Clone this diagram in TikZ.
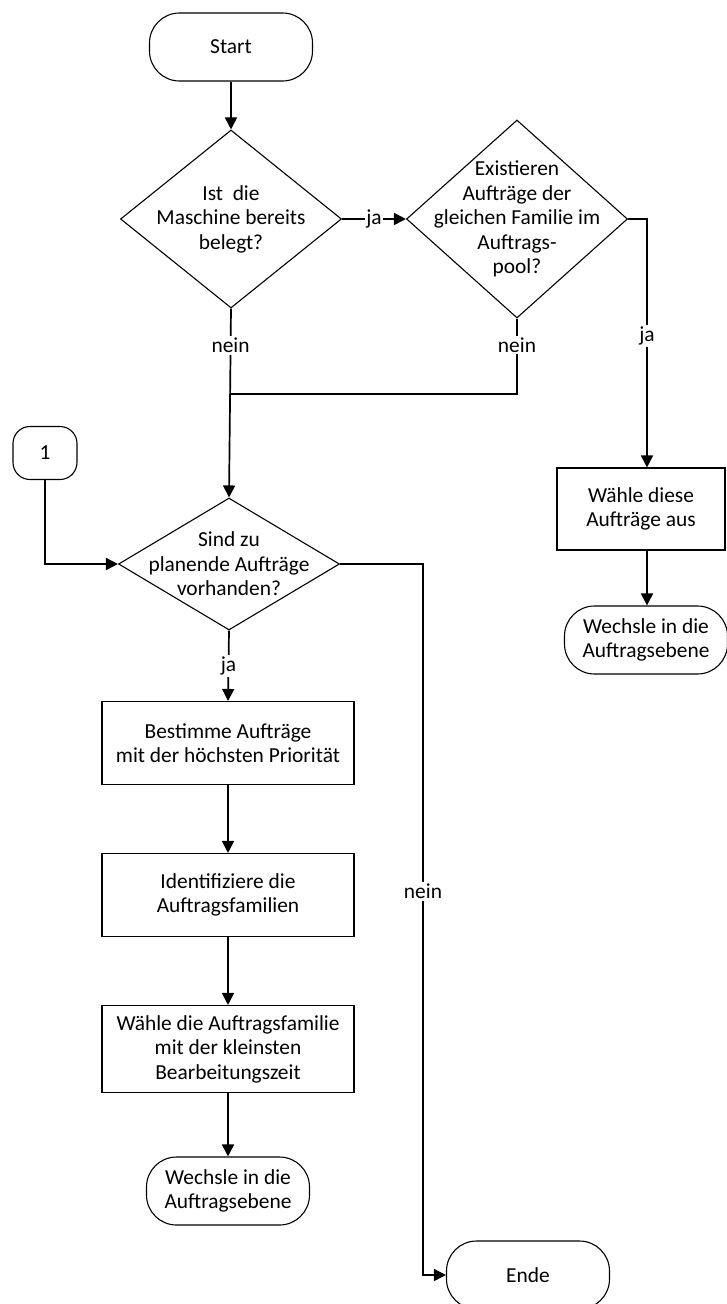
\documentclass[tikz,border=0pt]{standalone}
\usepackage{fontspec}
\setmainfont{Carlito}
\usetikzlibrary{shapes.geometric,arrows.meta}
\begin{document}
\begin{tikzpicture}[x=1pt,y=-1pt,
  every node/.style={font=\fontsize{21.4}{24.5}\selectfont},
  term/.style={draw, line width=1.1pt, rectangle, rounded corners=30pt,
    minimum width=163pt, minimum height=68pt, inner sep=0pt, align=center},
  conn/.style={draw, line width=1.1pt, rectangle, rounded corners=17pt,
    minimum width=64pt, minimum height=53pt, inner sep=0pt},
  proc/.style={draw, line width=1.1pt, rectangle,
    minimum width=252pt, minimum height=83pt, inner sep=0pt, align=center},
  dia/.style={draw, line width=1.1pt, diamond, inner sep=0pt, aspect=1},
  flow/.style={line width=1.7pt, -{Triangle[length=12pt,width=12pt]}},
  link/.style={line width=1.7pt},
  lbl/.style={fill=white, inner sep=2pt}
]
\useasboundingbox (0,0) rectangle (726,1304);

% nodes
\node[term] (start) at (231,47) {Start};
\node[dia, minimum width=221pt, minimum height=178pt,
  label={[align=center]center:Ist\ \ die\\Maschine bereits\\belegt?}] (d1) at (231,219) {};
\node[dia, minimum width=221pt, minimum height=198pt,
  label={[align=center]center:Existieren\\Aufträge der\\gleichen Familie im\\Auftrags-\\pool?}] (d2) at (517,219) {};
\node[dia, minimum width=221pt, minimum height=132pt,
  label={[align=center]center:Sind zu\\planende Aufträge\\vorhanden?}] (d3) at (229,564) {};
\node[conn] (c1) at (45,453) {1};
\node[proc, minimum width=168pt, minimum height=82pt] (wd) at (641,509) {Wähle diese\\Aufträge aus};
\node[term] (we1) at (646,640) {Wechsle in die\\Auftragsebene};
\node[proc] (b1) at (228,743) {Bestimme Aufträge\\mit der höchsten Priorität};
\node[proc] (b2) at (228,895) {Identifiziere die\\Auftragsfamilien};
\node[proc, minimum height=87pt] (b3) at (228,1049) {Wähle die Auftragsfamilie\\mit der kleinsten\\Bearbeitungszeit};
\node[term] (we2) at (228,1191) {Wechsle in die\\Auftragsebene};
\node[term] (ende) at (528,1275) {Ende};

% turning points
\coordinate (jn) at (517,394);
\coordinate (jt) at (647,219);
\coordinate (nt) at (423,564);

% connectors
\draw[flow] (start) -- (d1.north);
\draw[flow] (d1.east) -- node[lbl, inner sep=1pt]{ja} (d2.west);
\draw[flow] (d1.south) -- node[lbl, pos=0.195]{nein} (d3.north);
\draw[link] (d2.south) -- node[lbl, pos=0.35]{nein} (jn) -- (jn -| d1.south);
\draw[flow] (d2.east) -- (jt) -- node[lbl, pos=0.47]{ja} (jt |- wd.north);
\draw[flow] (jt |- wd.south) -- (jt |- we1.north);
\draw[flow] (c1.south) |- (d3.west);
\draw[flow] (d3.south) -- node[lbl, pos=0.5]{ja} (b1.north);
\draw[flow] (b1) -- (b2);
\draw[flow] (b2) -- (b3);
\draw[flow] (b3) -- (we2);
\draw[flow] (d3.east) -- (nt) -- node[lbl, pos=0.46]{nein} (nt |- ende.west) -- (ende.west);
\end{tikzpicture}
\end{document}
